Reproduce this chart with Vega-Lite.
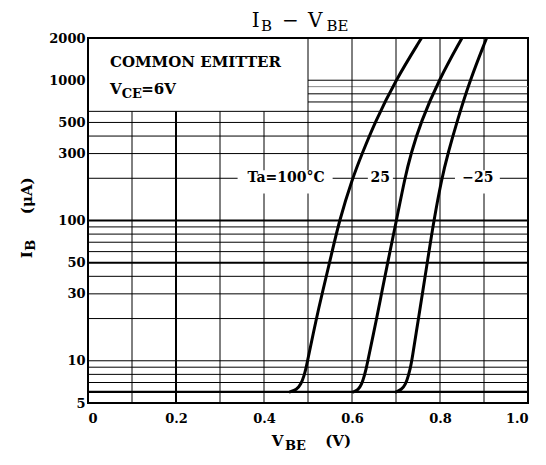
{
  "$schema": "https://vega.github.io/schema/vega-lite/v6.json",
  "width": 440,
  "height": 365,
  "autosize": {"type": "none"},
  "padding": {"left": 88, "top": 38, "right": 18, "bottom": 62},
  "background": "white",
  "config": {
    "view": {"stroke": "black", "strokeWidth": 2},
    "font": "DejaVu Serif",
    "text": {"font": "DejaVu Serif", "color": "black"}
  },
  "datasets": {
    "hthin": [{"y": 7}, {"y": 8}, {"y": 9}, {"y": 10}, {"y": 20}, {"y": 30}, {"y": 40}, {"y": 60}, {"y": 70}, {"y": 80}, {"y": 90}, {"y": 200}, {"y": 300}, {"y": 400}, {"y": 500}, {"y": 600}],
    "hright": [{"y": 700}, {"y": 800}, {"y": 1000}],
    "hgray": [{"y": 900}],
    "hthick": [{"y": 6}, {"y": 50}, {"y": 100}],
    "vleft": [{"x": 0.1}, {"x": 0.3}, {"x": 0.4}],
    "vleftthick": [{"x": 0.2}],
    "vright": [{"x": 0.5}, {"x": 0.6}, {"x": 0.7}, {"x": 0.8}, {"x": 0.9}],
    "gaps": [{"lo": 0.34, "hi": 0.556}, {"lo": 0.636, "hi": 0.693}, {"lo": 0.834, "hi": 0.936}],
    "curves": [
      {"t": "100", "x": 0.459, "y": 6},
      {"t": "100", "x": 0.474, "y": 6.2},
      {"t": "100", "x": 0.484, "y": 6.8},
      {"t": "100", "x": 0.491, "y": 7.8},
      {"t": "100", "x": 0.496, "y": 9},
      {"t": "100", "x": 0.499, "y": 10},
      {"t": "100", "x": 0.519, "y": 20},
      {"t": "100", "x": 0.532, "y": 30},
      {"t": "100", "x": 0.549, "y": 50},
      {"t": "100", "x": 0.571, "y": 100},
      {"t": "100", "x": 0.601, "y": 200},
      {"t": "100", "x": 0.623, "y": 300},
      {"t": "100", "x": 0.652, "y": 500},
      {"t": "100", "x": 0.699, "y": 1000},
      {"t": "100", "x": 0.758, "y": 2000},
      {"t": "25", "x": 0.603, "y": 6},
      {"t": "25", "x": 0.614, "y": 6.2},
      {"t": "25", "x": 0.622, "y": 6.8},
      {"t": "25", "x": 0.628, "y": 7.8},
      {"t": "25", "x": 0.633, "y": 9},
      {"t": "25", "x": 0.636, "y": 10},
      {"t": "25", "x": 0.656, "y": 20},
      {"t": "25", "x": 0.667, "y": 30},
      {"t": "25", "x": 0.681, "y": 50},
      {"t": "25", "x": 0.701, "y": 100},
      {"t": "25", "x": 0.72, "y": 200},
      {"t": "25", "x": 0.734, "y": 300},
      {"t": "25", "x": 0.756, "y": 500},
      {"t": "25", "x": 0.797, "y": 1000},
      {"t": "25", "x": 0.85, "y": 2000},
      {"t": "-25", "x": 0.70, "y": 6},
      {"t": "-25", "x": 0.712, "y": 6.2},
      {"t": "-25", "x": 0.722, "y": 6.8},
      {"t": "-25", "x": 0.728, "y": 7.8},
      {"t": "-25", "x": 0.733, "y": 9},
      {"t": "-25", "x": 0.736, "y": 10},
      {"t": "-25", "x": 0.751, "y": 20},
      {"t": "-25", "x": 0.76, "y": 30},
      {"t": "-25", "x": 0.771, "y": 50},
      {"t": "-25", "x": 0.786, "y": 100},
      {"t": "-25", "x": 0.804, "y": 200},
      {"t": "-25", "x": 0.818, "y": 300},
      {"t": "-25", "x": 0.838, "y": 500},
      {"t": "-25", "x": 0.868, "y": 1000},
      {"t": "-25", "x": 0.906, "y": 2000}
    ],
    "titleMain": [{"s": "I", "x": 0.372, "y": 2396}, {"s": "−", "x": 0.441, "y": 2396}, {"s": "V", "x": 0.5, "y": 2396}],
    "titleSub": [{"s": "B", "x": 0.393, "y": 2396}, {"s": "BE", "x": 0.542, "y": 2396}],
    "boldMain": [{"s": "COMMON EMITTER", "x": 0.05, "y": 1242}, {"s": "V", "x": 0.05, "y": 798}, {"s": "=6V", "x": 0.121, "y": 798}, {"s": "V", "x": 0.4175, "y": 2.47}, {"s": "(V)", "x": 0.539, "y": 2.47}],
    "boldSub": [{"s": "CE", "x": 0.0766, "y": 798}, {"s": "BE", "x": 0.448, "y": 2.47}],
    "curveLabels": [{"s": "Ta=100°C", "x": 0.45}, {"s": "25", "x": 0.664}, {"s": "−25", "x": 0.886}],
    "yTitleMain": [{"s": "I", "x": -0.139, "y": 53.9}, {"s": "(μA)", "x": -0.139, "y": 111}],
    "yTitleSub": [{"s": "B", "x": -0.139, "y": 60.8}]
  },
  "layer": [
    {
      "data": {"name": "hthin"},
      "mark": {"type": "rule", "color": "black", "strokeWidth": 1},
      "encoding": {
        "y": {"field": "y", "type": "quantitative", "title": null,
              "scale": {"type": "log", "domain": [5, 2000], "nice": false},
              "axis": {"values": [5, 10, 30, 50, 100, 300, 500, 1000, 2000], "format": "d", "ticks": false, "domain": false, "grid": false, "labelFont": "DejaVu Serif", "labelFontWeight": "bold", "labelFontSize": 13, "labelColor": "black", "labelPadding": 3}},
        "x": {"datum": 0, "type": "quantitative", "title": null,
              "scale": {"domain": [0, 1], "nice": false, "zero": false},
              "axis": {"values": [0, 0.2, 0.4, 0.6, 0.8, 1.0], "labelExpr": "datum.value == 0 ? '0' : format(datum.value, '.1f')", "ticks": false, "domain": false, "grid": false, "labelFont": "DejaVu Serif", "labelFontWeight": "bold", "labelFontSize": 13, "labelColor": "black", "labelPadding": 9}},
        "x2": {"datum": 1}
      }
    },
    {
      "data": {"name": "hright"},
      "mark": {"type": "rule", "color": "black", "strokeWidth": 1},
      "encoding": {
        "y": {"field": "y", "type": "quantitative", "title": null},
        "x": {"datum": 0.5, "type": "quantitative", "title": null},
        "x2": {"datum": 1}
      }
    },
    {
      "data": {"name": "hgray"},
      "mark": {"type": "rule", "color": "#888888", "strokeWidth": 1},
      "encoding": {
        "y": {"field": "y", "type": "quantitative", "title": null},
        "x": {"datum": 0.5, "type": "quantitative", "title": null},
        "x2": {"datum": 1}
      }
    },
    {
      "data": {"name": "hthick"},
      "mark": {"type": "rule", "color": "black", "strokeWidth": 2.2},
      "encoding": {
        "y": {"field": "y", "type": "quantitative", "title": null},
        "x": {"datum": 0, "type": "quantitative", "title": null},
        "x2": {"datum": 1}
      }
    },
    {
      "data": {"name": "vleft"},
      "mark": {"type": "rule", "color": "black", "strokeWidth": 1},
      "encoding": {
        "x": {"field": "x", "type": "quantitative", "title": null},
        "y": {"datum": 5, "type": "quantitative", "title": null},
        "y2": {"datum": 600}
      }
    },
    {
      "data": {"name": "vleftthick"},
      "mark": {"type": "rule", "color": "black", "strokeWidth": 2},
      "encoding": {
        "x": {"field": "x", "type": "quantitative", "title": null},
        "y": {"datum": 5, "type": "quantitative", "title": null},
        "y2": {"datum": 600}
      }
    },
    {
      "data": {"name": "vright"},
      "mark": {"type": "rule", "color": "black", "strokeWidth": 1},
      "encoding": {
        "x": {"field": "x", "type": "quantitative", "title": null},
        "y": {"datum": 5, "type": "quantitative", "title": null},
        "y2": {"datum": 2000}
      }
    },
    {
      "data": {"name": "gaps"},
      "mark": {"type": "rect", "color": "white", "opacity": 1},
      "encoding": {
        "x": {"field": "lo", "type": "quantitative", "title": null},
        "x2": {"field": "hi"},
        "y": {"datum": 156, "type": "quantitative", "title": null},
        "y2": {"datum": 228}
      }
    },
    {
      "data": {"name": "curves"},
      "mark": {"type": "line", "color": "black", "strokeWidth": 3, "interpolate": "basis", "strokeCap": "round", "clip": true},
      "encoding": {
        "x": {"field": "x", "type": "quantitative", "title": null},
        "y": {"field": "y", "type": "quantitative", "title": null},
        "detail": {"field": "t"},
        "order": {"field": "y"}
      }
    },
    {
      "data": {"name": "curveLabels"},
      "mark": {"type": "text", "fontSize": 14, "fontWeight": "bold", "align": "center", "baseline": "middle"},
      "encoding": {
        "x": {"field": "x", "type": "quantitative", "title": null},
        "y": {"datum": 200, "type": "quantitative", "title": null},
        "text": {"field": "s"}
      }
    },
    {
      "data": {"name": "titleMain"},
      "mark": {"type": "text", "fontSize": 20, "align": "left", "baseline": "alphabetic"},
      "encoding": {
        "x": {"field": "x", "type": "quantitative", "title": null},
        "y": {"field": "y", "type": "quantitative", "title": null},
        "text": {"field": "s"}
      }
    },
    {
      "data": {"name": "titleSub"},
      "mark": {"type": "text", "fontSize": 15, "align": "left", "baseline": "alphabetic", "dy": 4},
      "encoding": {
        "x": {"field": "x", "type": "quantitative", "title": null},
        "y": {"field": "y", "type": "quantitative", "title": null},
        "text": {"field": "s"}
      }
    },
    {
      "data": {"name": "boldMain"},
      "mark": {"type": "text", "fontSize": 15, "fontWeight": "bold", "align": "left", "baseline": "alphabetic"},
      "encoding": {
        "x": {"field": "x", "type": "quantitative", "title": null},
        "y": {"field": "y", "type": "quantitative", "title": null},
        "text": {"field": "s"}
      }
    },
    {
      "data": {"name": "boldSub"},
      "mark": {"type": "text", "fontSize": 13, "fontWeight": "bold", "align": "left", "baseline": "alphabetic", "dy": 4},
      "encoding": {
        "x": {"field": "x", "type": "quantitative", "title": null},
        "y": {"field": "y", "type": "quantitative", "title": null},
        "text": {"field": "s"}
      }
    },
    {
      "data": {"name": "yTitleMain"},
      "mark": {"type": "text", "fontSize": 15, "fontWeight": "bold", "align": "left", "baseline": "middle", "angle": 270},
      "encoding": {
        "x": {"field": "x", "type": "quantitative", "title": null},
        "y": {"field": "y", "type": "quantitative", "title": null},
        "text": {"field": "s"}
      }
    },
    {
      "data": {"name": "yTitleSub"},
      "mark": {"type": "text", "fontSize": 13, "fontWeight": "bold", "align": "left", "baseline": "middle", "angle": 270, "dy": 4},
      "encoding": {
        "x": {"field": "x", "type": "quantitative", "title": null},
        "y": {"field": "y", "type": "quantitative", "title": null},
        "text": {"field": "s"}
      }
    }
  ]
}
